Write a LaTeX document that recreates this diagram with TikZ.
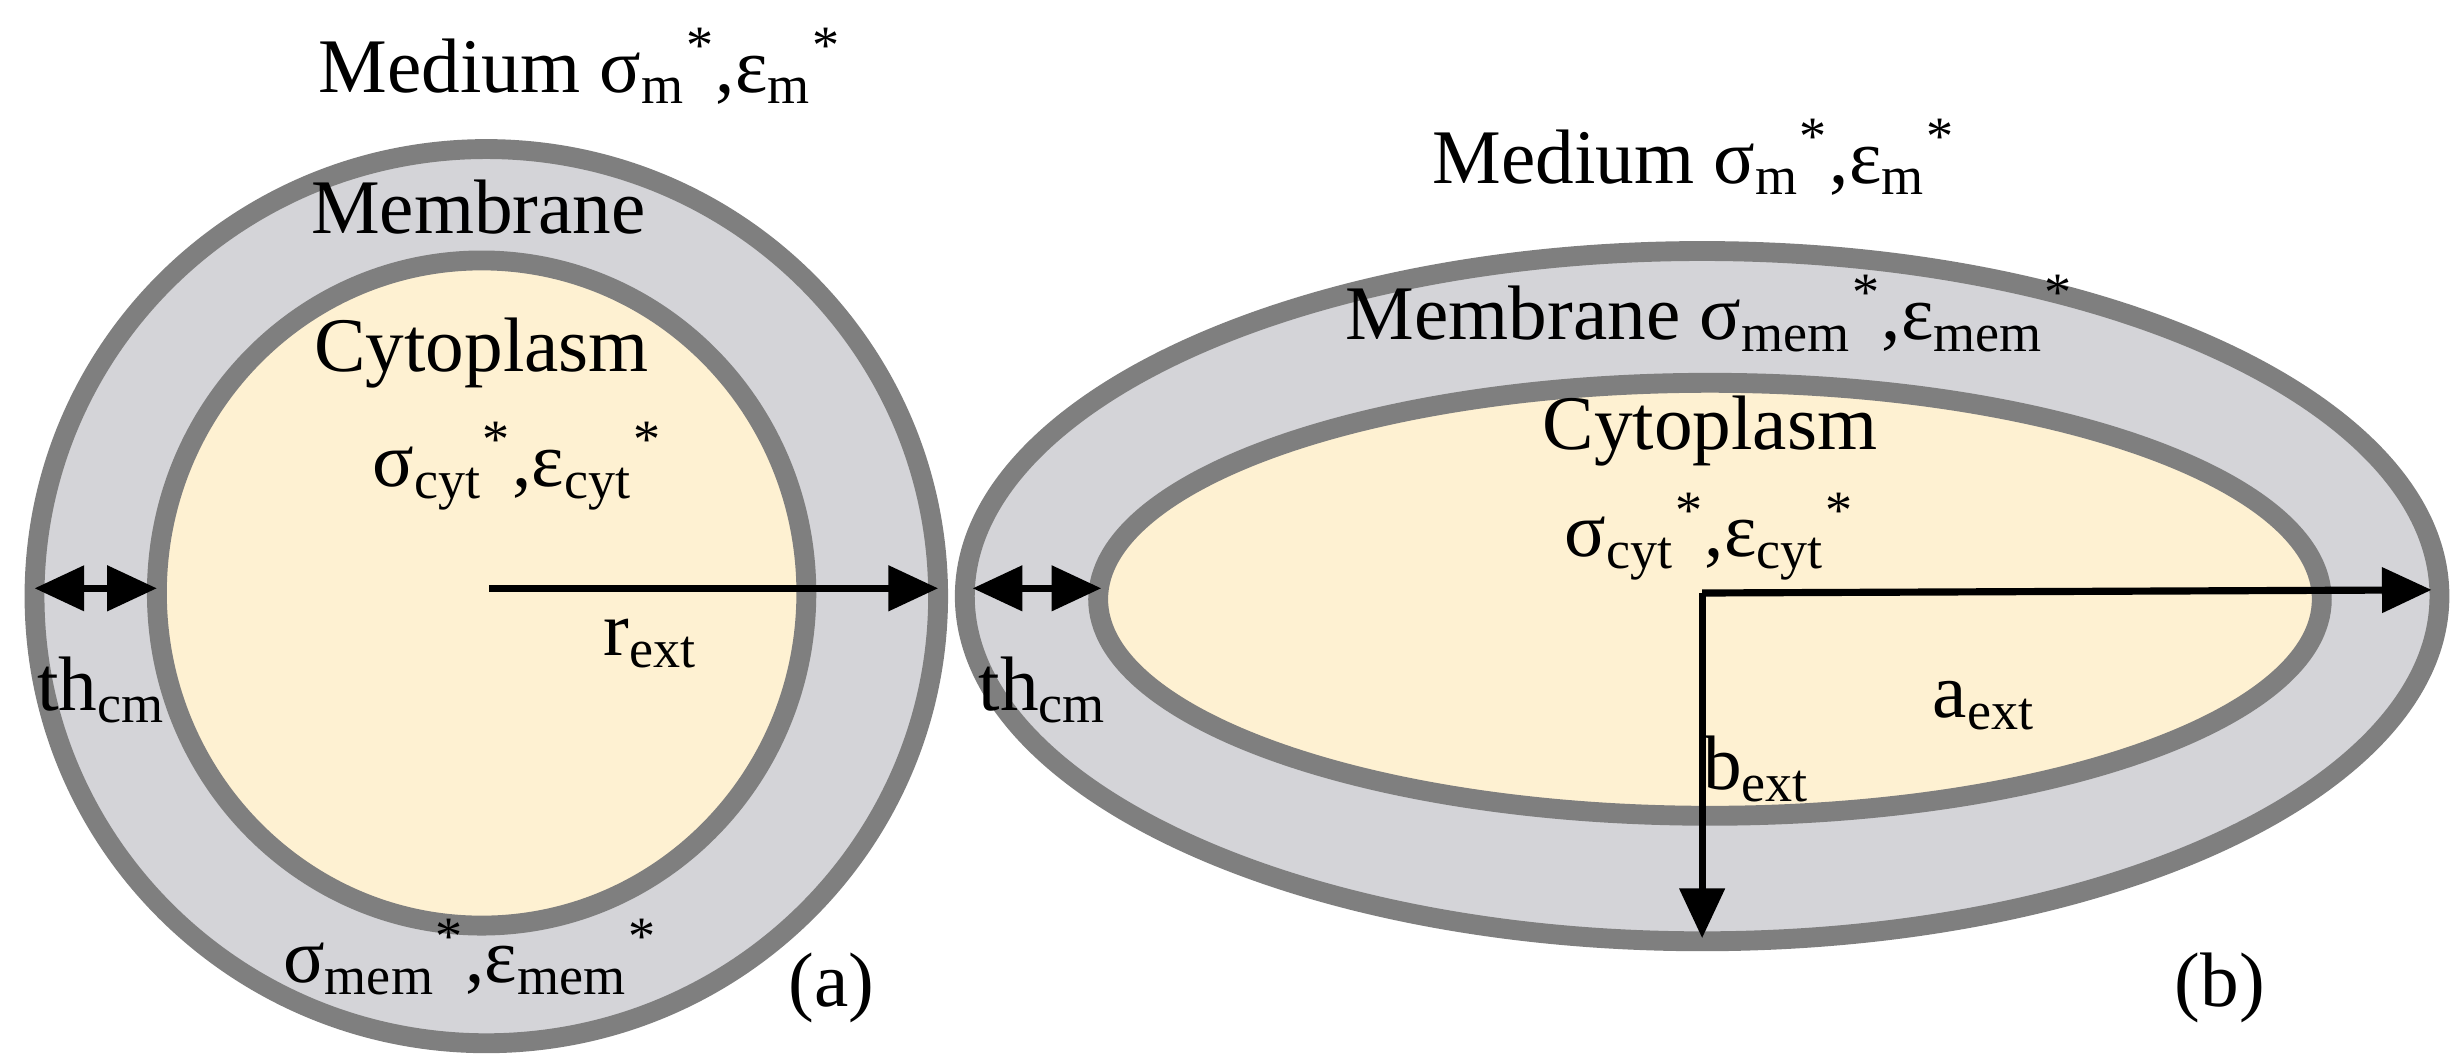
\documentclass[tikz,border=0pt]{standalone}
\usepackage{fontspec}
\setmainfont{Liberation Serif}
\usetikzlibrary{arrows.meta}
\definecolor{memb}{HTML}{D4D4D8}
\definecolor{bord}{HTML}{7F7F7F}
\definecolor{cyto}{HTML}{FEF1D2}
\newcommand{\sub}[1]{\textsubscript{#1}}
\newcommand{\st}{\textsuperscript{*}}
\begin{document}
\begin{tikzpicture}[x=0.01cm,y=-0.01cm,
  shell/.style={draw=bord,line width=3.6pt,fill=memb},
  core/.style={draw=bord,line width=3.6pt,fill=cyto},
  lab/.style={font=\fontsize{14}{16}\selectfont,inner sep=0pt},
  arr/.style={line width=1.3pt,-{Triangle[length=9pt,width=8pt]}},
  darr/.style={line width=1.3pt,{Triangle[length=9pt,width=8pt]}-{Triangle[length=9pt,width=8pt]}}]
\useasboundingbox (0,0) rectangle (1563,675);
% left
\draw[shell] (310,380) ellipse [x radius=288,y radius=285];
\draw[core] (307,378) ellipse [x radius=207,y radius=212];
% right
\draw[shell] (1085,380) ellipse [x radius=470,y radius=220];
\draw[core] (1090,382) ellipse [x radius=390,y radius=138];
% coordinates
\coordinate (lc) at (312,375); \coordinate (le) at (598,375);
\coordinate (lt1) at (22,375); \coordinate (lt2) at (100,375);
\coordinate (rc) at (1085,378); \coordinate (re) at (1550,376);
\coordinate (rb) at (1085,598);
\coordinate (rt1) at (620,375); \coordinate (rt2) at (702,375);
\draw[arr] (lc) -- (le);
\draw[darr] (lt1) -- (lt2);
\draw[arr] (rc) -- (re);
\draw[arr] (rc) -- (rb);
\draw[darr] (rt1) -- (rt2);
% texts
\node[lab] (t1) at (370,42) {Medium σ\sub{m}\st,ε\sub{m}\st};
\node[lab] (t2) at (305,132) {Membrane};
\node[lab] (t3) at (307,225) {Cytoplasm};
\node[lab] (t4) at (330,297) {σ\sub{cyt}\st,ε\sub{cyt}\st};
\node[lab] (t5) at (415,410) {r\sub{ext}};
\node[lab] (t6) at (65,440) {th\sub{cm}};
\node[lab] (t7) at (300,610) {σ\sub{mem}\st,ε\sub{mem}\st};
\node[lab] (t8) at (530,630) {(a)};
\node[lab] (u1) at (1080,100) {Medium σ\sub{m}\st,ε\sub{m}\st};
\node[lab] (u2) at (1090,200) {Membrane σ\sub{mem}\st,ε\sub{mem}\st};
\node[lab] (u3) at (1090,275) {Cytoplasm};
\node[lab] (u4) at (1090,342) {σ\sub{cyt}\st,ε\sub{cyt}\st};
\node[lab] (u5) at (1265,450) {a\sub{ext}};
\node[lab] (u6) at (1120,490) {b\sub{ext}};
\node[lab] (u7) at (665,440) {th\sub{cm}};
\node[lab] (u8) at (1415,630) {(b)};
\end{tikzpicture}
\end{document}
